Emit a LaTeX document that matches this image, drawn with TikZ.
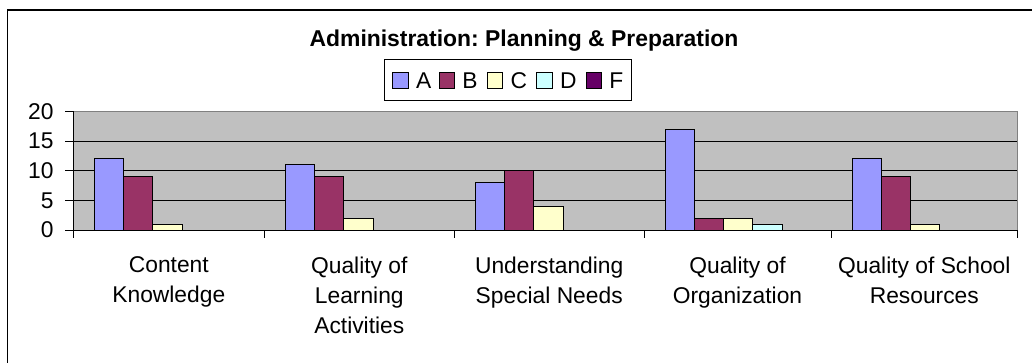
\documentclass[tikz,border=0pt]{standalone}
\usepackage{fontspec}
\setmainfont{Liberation Sans}
\frenchspacing
\definecolor{barA}{RGB}{153,153,255}
\definecolor{barB}{RGB}{153,51,102}
\definecolor{barC}{RGB}{255,255,204}
\definecolor{barD}{RGB}{204,255,255}
\definecolor{barF}{RGB}{102,0,102}
\definecolor{plotgray}{RGB}{192,192,192}
\definecolor{bordergray}{RGB}{128,128,128}
\newcommand{\chartfont}{\fontsize{22.8}{29.8}\selectfont}
\newcommand{\titlefont}{\fontsize{22.9}{27}\selectfont\bfseries}
\begin{document}
\begin{tikzpicture}[x=1pt,y=-1pt,
  lbl/.style={inner sep=0pt,outer sep=0pt,font=\chartfont},
  catlbl/.style={lbl,align=center,anchor=north},
  ylbl/.style={lbl,anchor=east},
  barbox/.style={draw=black,line width=0.9pt},
  grid/.style={draw=black,line width=0.9pt},
  keybox/.style={draw=black,line width=0.9pt},
]
\useasboundingbox (0,0) rectangle (1032,362);
\fill[white] (0,0) rectangle (1032,362);
\clip (0,0) rectangle (1032,362);
% outer chart frame (extends past the image)
\draw[line width=1.3pt] (7.3,380) -- (7.3,10) -- (1050,10);
% title
\node[lbl,font=\titlefont,anchor=base] (title) at (524,46.7) {Administration: Planning \& Preparation};
% legend
\draw[keybox] (384,59) rectangle (631.5,100);
\foreach \x/\c/\t [count=\i] in {392.7/barA/A,439/barB/B,487.3/barC/C,536.7/barD/D,586/barF/F}{
  \draw[keybox,fill=\c] (\x,72.5) rectangle ++(15.5,15.5);
  \node[lbl,anchor=base west] (key\i) at (\x+23.3,88.3) {\t};
}
% plot area
\fill[plotgray] (73.3,111.4) rectangle (1017.7,230);
\foreach \v in {5,10,15}{
  \draw[grid] (73.3,230-\v*5.93) -- (1017.7,230-\v*5.93);
}
\draw[bordergray,line width=1pt] (73.3,111.4) -- (1017.7,111.4) -- (1017.7,230);
% bars
\foreach \s/\vals in {73.3/{12,9,1,0,0},264.3/{11,9,2,0,0},454.3/{8,10,4,0,0},644/{17,2,2,1,0},831/{12,9,1,0,0}}{
  \foreach \v [count=\k] in \vals {
    \ifnum\v>0
      \pgfmathsetmacro{\bx}{\s+21+(\k-1)*29.3}
      \ifcase\k\or\def\bc{barA}\or\def\bc{barB}\or\def\bc{barC}\or\def\bc{barD}\or\def\bc{barF}\fi
      \draw[barbox,fill=\bc] (\bx,230) rectangle (\bx+29.3,230-\v*5.93);
    \fi
  }
}
% axes
\draw[black,line width=1pt] (73.3,111.4) -- (73.3,230) -- (1017.7,230);
\foreach \v in {0,5,10,15,20}{
  \draw[black,line width=1pt] (65,230-\v*5.93) -- (73.3,230-\v*5.93);
  \node[ylbl] (y\v) at (53.5,230-\v*5.93) {\v};
}
\foreach \t in {73.3,264.3,454.3,644,831,1017.7}{
  \draw[black,line width=1pt] (\t,230) -- (\t,238);
}
% category labels
\node[catlbl] (c1) at (168.8,257) {Content\\Knowledge};
\node[catlbl] (c2) at (359.3,257) {Quality of\\Learning\\Activities};
\node[catlbl] (c3) at (549.2,257) {Understanding\\Special Needs};
\node[catlbl] (c4) at (737.5,257) {Quality of\\Organization};
\node[catlbl] (c5) at (924.3,257) {Quality of School\\Resources};
\end{tikzpicture}
\end{document}
